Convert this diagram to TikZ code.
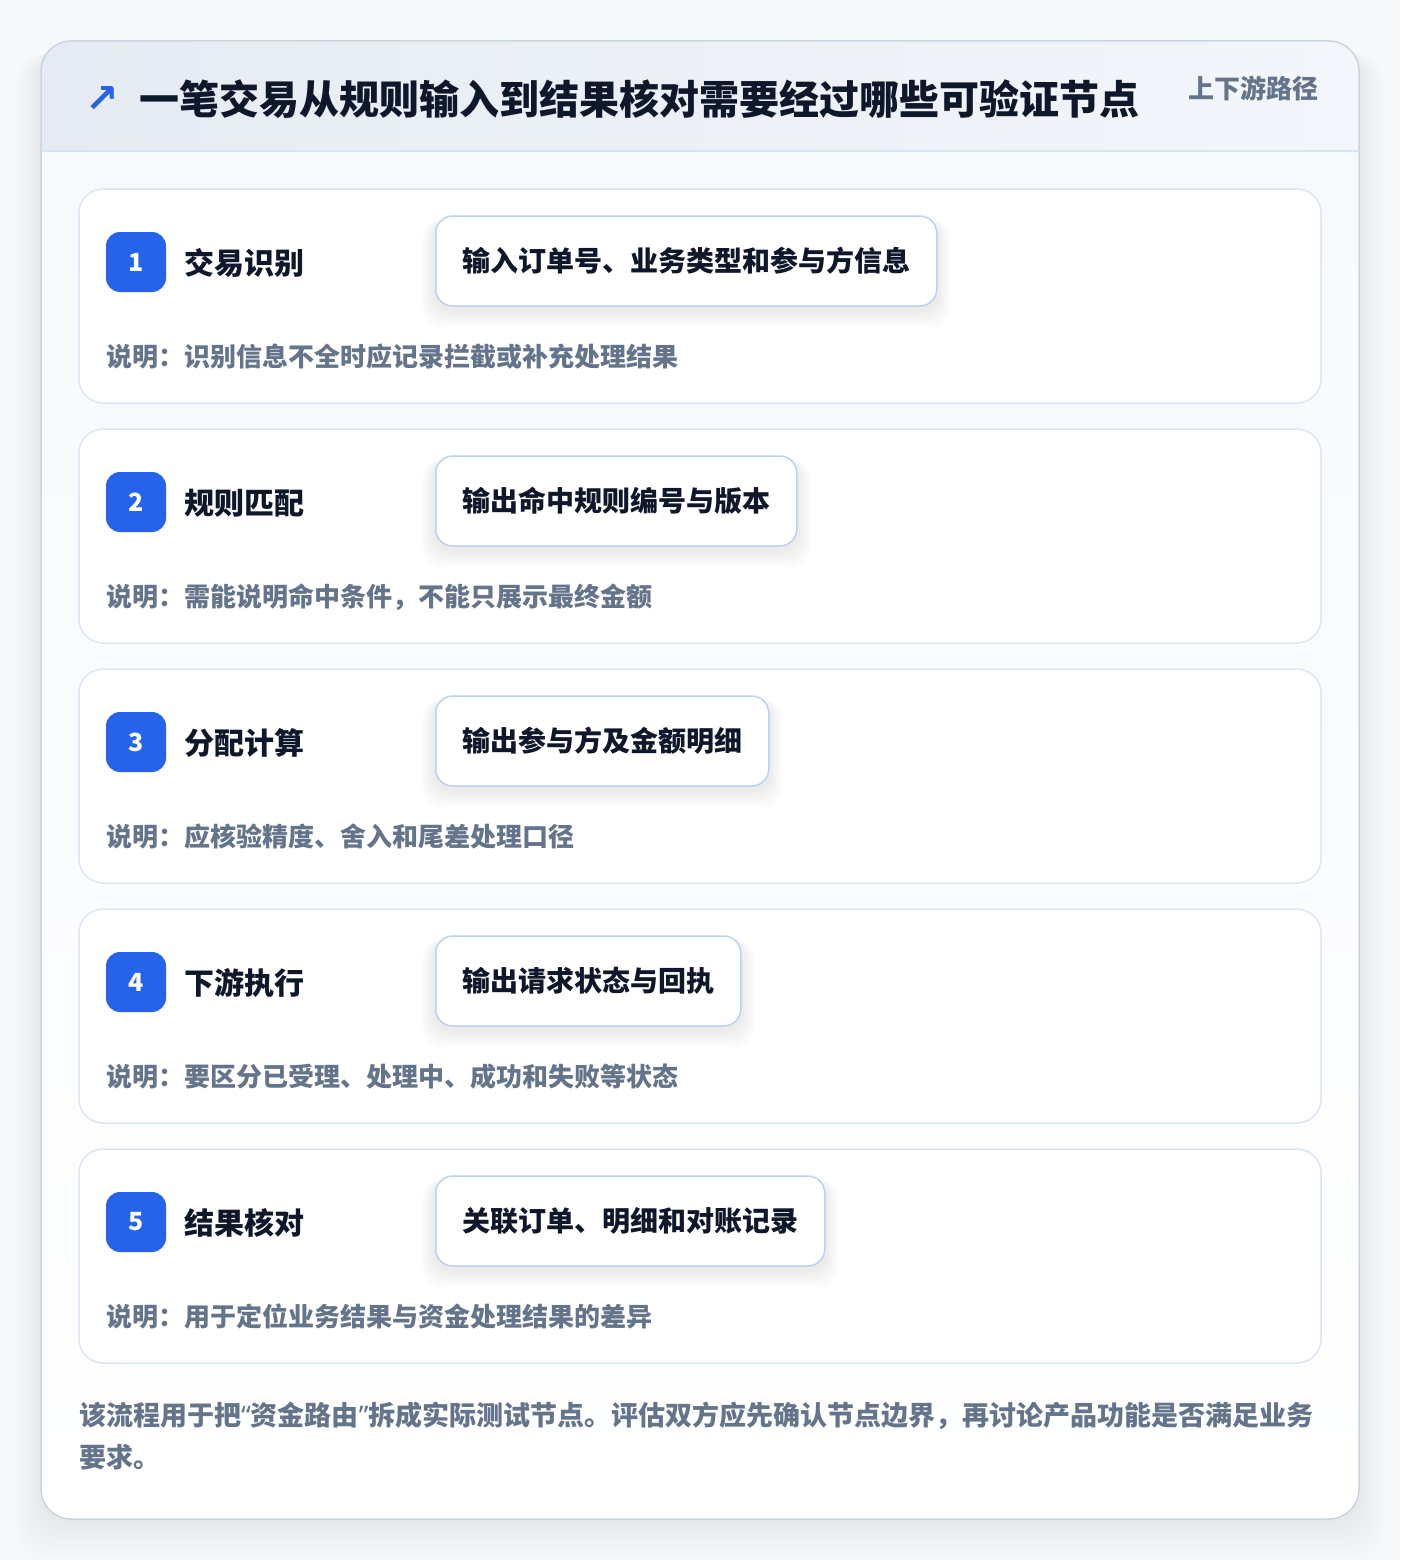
\documentclass[tikz,border=0pt]{standalone}
\usepackage{fontspec}
\setmainfont{Noto Sans CJK SC}
\newfontfamily\symfont{DejaVu Sans}
\newfontfamily\latinfont{Noto Sans}
\definecolor{pagebg}{HTML}{F7F8FA}
\definecolor{cardborder}{HTML}{CBD5E1}
\definecolor{headl}{HTML}{E6EBF3}
\definecolor{headr}{HTML}{F3F6FA}
\definecolor{headline}{HTML}{D8E4F3}
\definecolor{bodytop}{HTML}{F7F9FC}
\definecolor{stepborder}{HTML}{DAE6F5}
\definecolor{boxborder}{HTML}{BCD2F0}
\definecolor{accent}{HTML}{2563EB}
\definecolor{ink}{HTML}{0F172A}
\definecolor{muted}{HTML}{64748B}
\pgfdeclarelayer{back}
\pgfdeclarelayer{mid}
\pgfsetlayers{back,mid,main}
\tikzset{
  stepcard/.style={draw=stepborder, line width=1.5pt, fill=white, rounded corners=24pt},
  badge/.style={fill=accent, rounded corners=14pt, minimum width=60pt, minimum height=60pt, inner sep=0pt, text=white, font=\fontsize{25}{25}\selectfont\bfseries},
  steptitle/.style={anchor=west, inner sep=0pt, text=ink, font=\fontsize{30}{30}\selectfont\bfseries, text height=24.9pt, text depth=2.1pt},
  outbox/.style={anchor=west, draw=boxborder, line width=1.5pt, fill=white, rounded corners=17pt, minimum height=90pt, inner xsep=26.5pt, inner ysep=0pt, text=ink, font=\fontsize{28}{28}\selectfont\bfseries, text height=23.2pt, text depth=2pt},
  desc/.style={anchor=west, inner sep=0pt, text=muted, font=\fontsize{26}{26}\selectfont\bfseries, text height=21.6pt, text depth=1.8pt},
  foot/.style={anchor=west, inner sep=0pt, text=muted, font=\fontsize{27}{27}\selectfont\bfseries, text height=22.4pt, text depth=1.9pt},
}
\begin{document}
\begin{tikzpicture}[x=1pt,y=-1pt]
\useasboundingbox (0,0) rectangle (1400,1560);
\begin{pgfonlayer}{back}
\fill[pagebg] (0,0) rectangle (1400,1560);
% outer shadow
\foreach \i in {1,...,16}{
  \fill[black, opacity=0.0055, rounded corners=34pt] (41-1.6*\i,48+0.3*\i) rectangle (1359+1.6*\i,1519+2.6*\i);
}
% outer card
\fill[white, rounded corners=30pt] (41,41) rectangle (1359,1519);
\begin{scope}
  \clip[rounded corners=30pt] (41,41) rectangle (1359,1519);
  \shade[left color=headl, right color=headr] (41,41) rectangle (1359,151);
  \shade[top color=bodytop, bottom color=white] (41,151) rectangle (1359,1519);
  \draw[headline, line width=1.5pt] (41,151) -- (1359,151);
\end{scope}
\draw[cardborder, line width=1.5pt, rounded corners=30pt] (41,41) rectangle (1359,1519);
\end{pgfonlayer}
% header
\node[inner sep=0pt, text=accent, font=\symfont\bfseries\fontsize{40}{40}\selectfont] (arrow) at (102,100) {↗};
\node[anchor=west, inner sep=0pt, text=ink, font=\fontsize{40}{40}\selectfont\bfseries, text height=33.2pt, text depth=2.8pt] (title) at (139,99) {一笔交易从规则输入到结果核对需要经过哪些可验证节点};
\node[anchor=west, inner sep=0pt, text=muted, font=\fontsize{26}{26}\selectfont\bfseries, text height=21.6pt, text depth=1.8pt] (tag) at (1188,89) {上下游路径};
% steps
\foreach \n/\t/\o/\d [count=\k from 0] in {
  1/交易识别/输入订单号、业务类型和参与方信息/说明：识别信息不全时应记录拦截或补充处理结果,
  2/规则匹配/输出命中规则编号与版本/说明：需能说明命中条件，不能只展示最终金额,
  3/分配计算/输出参与方及金额明细/说明：应核验精度、舍入和尾差处理口径,
  4/下游执行/输出请求状态与回执/说明：要区分已受理、处理中、成功和失败等状态,
  5/结果核对/关联订单、明细和对账记录/说明：用于定位业务结果与资金处理结果的差异}{
  \pgfmathsetmacro{\top}{189+240*\k}
  \begin{pgfonlayer}{back}
    \draw[stepcard] (79,\top) rectangle (1321,\top+214);
  \end{pgfonlayer}
  \node[badge] (badge\n) at (136,\top+73) {\n};
  \node[steptitle] (title\n) at (184,\top+74) {\t};
  \node[outbox] (out\n) at (435,\top+72) {\o};
  \begin{pgfonlayer}{mid}
    \foreach \j in {1,...,10}{
      \fill[black, opacity=0.008, rounded corners=20pt] ([xshift=-\j*1.3pt, yshift=-4pt]out\n.north west) rectangle ([xshift=\j*1.3pt, yshift=-\j*2pt-2pt]out\n.south east);
    }
  \end{pgfonlayer}
  \node[desc] (desc\n) at (106,\top+168) {\d};
}
% footer
\node[foot] (foot1) at (79,1415) {该流程用于把{\latinfont “}资金路由{\latinfont ”}拆成实际测试节点。评估双方应先确认节点边界，再讨论产品功能是否满足业务};
\node[foot] (foot2) at (79,1457) {要求。};
\end{tikzpicture}
\end{document}
